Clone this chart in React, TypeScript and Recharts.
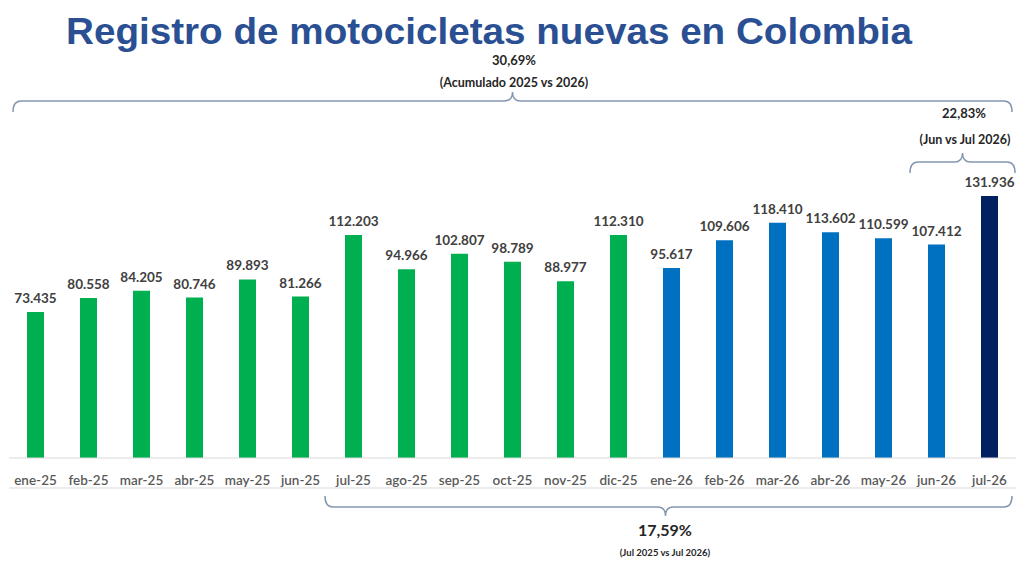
import React from "react";
import { BarChart, Bar, XAxis, YAxis, Cell, LabelList } from "recharts";

// Registro mensual de motos nuevas, ene-25 .. jul-26
const months = [
  "ene-25", "feb-25", "mar-25", "abr-25", "may-25", "jun-25", "jul-25", "ago-25", "sep-25", "oct-25",
  "nov-25", "dic-25", "ene-26", "feb-26", "mar-26", "abr-26", "may-26", "jun-26", "jul-26",
];
const registros = [
  73435, 80558, 84205, 80746, 89893, 81266, 112203, 94966, 102807, 98789,
  88977, 112310, 95617, 109606, 118410, 113602, 110599, 107412, 131936,
];
const edgeTicks = Array.from({ length: months.length + 1 }, (_, i) => i);

const data = months.map((mes, i) => ({ mes, valor: registros[i] }));

const W = 1024;
const H = 576;
const M = { top: 160, right: 8, left: 9, bottom: 87 };
const band = (W - M.left - M.right) / months.length;
const bandStart = (i: number) => M.left + i * band;

const GREEN = "#00b050";
const BLUE = "#0070c0";
const NAVY = "#002060";
const TEXT = "#404040";
const AXIS = "#d9d9d9";

const fmt = (v: number) => String(v).replace(/\B(?=(\d{3})+(?!\d))/g, ".");

const barColor = (mes: string, i: number) =>
  i === months.length - 1 ? NAVY : mes.endsWith("26") ? BLUE : GREEN;

// curly brace: ends bend toward `dir`, tip points the other way
function brace(x1: number, x2: number, y: number, dir: 1 | -1, tipX: number) {
  const r = 8;
  const end = 11 * dir;
  const tip = -9 * dir;
  return [
    `M${x1},${y + end}`,
    `Q${x1},${y} ${x1 + r},${y}`,
    `L${tipX - r},${y}`,
    `Q${tipX},${y} ${tipX},${y + tip}`,
    `Q${tipX},${y} ${tipX + r},${y}`,
    `L${x2 - r},${y}`,
    `Q${x2},${y} ${x2},${y + end}`,
  ].join(" ");
}

const font = "Lato, 'Open Sans', sans-serif";

export default function App() {
  const n = months.length;
  const topL = bandStart(0) + 4;
  const topR = bandStart(n) - 4;
  const rL = bandStart(n - 2);
  const rR = bandStart(n) - 1;
  const bL = bandStart(6) - 2;
  const bR = bandStart(n) - 4;
  return (
    <div style={{ position: "relative", width: W, height: H, background: "#fff", fontFamily: font }}>
      <style>{"body{margin:0}"}</style>
      <BarChart width={W} height={H} data={data} margin={M} barSize={17}>
        <XAxis
          xAxisId="edges"
          type="number"
          domain={[0, n]}
          ticks={edgeTicks}
          allowDataOverflow
          height={1}
          tick={false}
          tickSize={5}
          axisLine={{ stroke: AXIS }}
          tickLine={{ stroke: AXIS }}
        />
        <XAxis
          xAxisId="cat"
          dataKey="mes"
          height={30}
          axisLine={{ stroke: AXIS }}
          tickLine={false}
          tickSize={6}
          tickMargin={11}
          interval={0}
          tick={{ fill: "#595959", fontSize: 13.5, fontWeight: 600, fontFamily: font }}
        />
        <YAxis hide domain={[0, 150000]} />
        <Bar xAxisId="cat" dataKey="valor" isAnimationActive={false}>
          {data.map((d, i) => (
            <Cell key={d.mes} fill={barColor(d.mes, i)} />
          ))}
          <LabelList
            dataKey="valor"
            position="top"
            offset={9}
            formatter={(v: any) => fmt(Number(v))}
            style={{ fill: TEXT, fontSize: 13.5, fontWeight: 700, fontFamily: font }}
          />
        </Bar>
      </BarChart>

      <svg width={W} height={H} style={{ position: "absolute", left: 0, top: 0, pointerEvents: "none" }}>
        <text
          x={489}
          y={44}
          textAnchor="middle"
          fontFamily="'Liberation Sans', Arial, sans-serif"
          fontWeight={700}
          fontSize={37}
          fill="#2a4f93"
          textLength={846}
          lengthAdjust="spacingAndGlyphs"
        >
          Registro de motocicletas nuevas en Colombia
        </text>

        <g fill="none" stroke="#8497b0" strokeWidth={1.5}>
          <path d={brace(topL, topR, 101, 1, (topL + topR) / 2)} />
          <path d={brace(rL, rR, 162, 1, (rL + rR) / 2)} />
          <path d={brace(bL, bR, 507, -1, (bL + bR) / 2 - 3)} />
        </g>

        <g fontFamily={font} fontWeight={700} fill="#262626" textAnchor="middle">
          <text x={514} y={65} fontSize={13}>30,69%</text>
          <text x={514} y={87} fontSize={12.5}>(Acumulado 2025 vs 2026)</text>
          <text x={964} y={118} fontSize={13}>22,83%</text>
          <text x={965} y={144} fontSize={12.5}>(Jun vs Jul 2026)</text>
          <text x={665} y={536} fontSize={16}>17,59%</text>
          <text x={665} y={556} fontSize={9.5}>(Jul 2025 vs Jul 2026)</text>
        </g>
      </svg>
    </div>
  );
}
